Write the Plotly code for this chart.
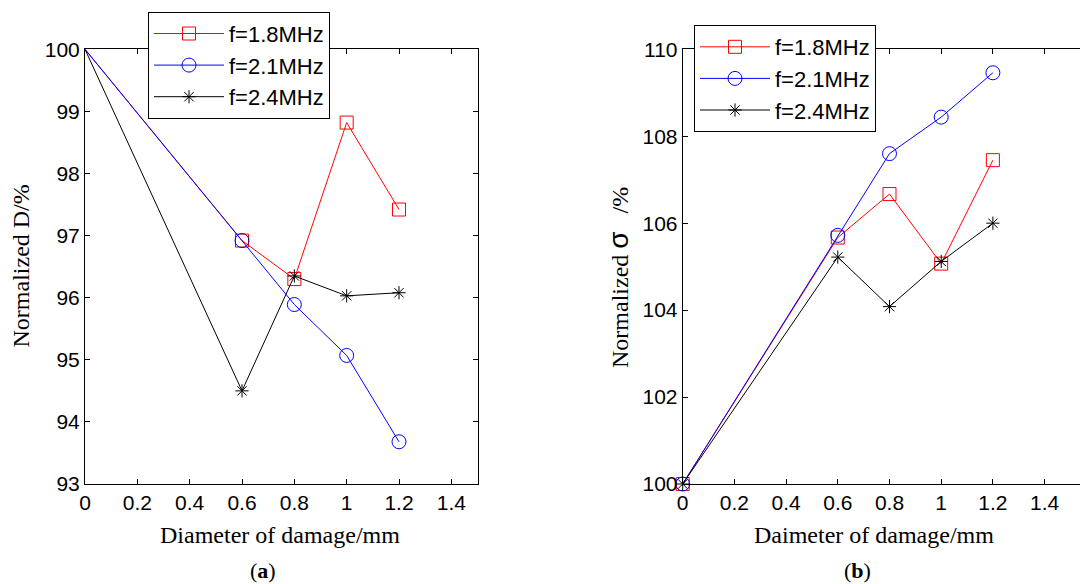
import plotly.graph_objects as go

# ---- data ----
diam = [0, 0.6, 0.8, 1.0, 1.2]
freq_labels = ["f=1.8MHz", "f=2.1MHz", "f=2.4MHz"]

# (a) Normalized D /%
D_18 = [100, 96.92, 96.30, 98.82, 97.42]
D_21 = [100, 96.92, 95.89, 95.07, 93.68]
D_24 = [100, 94.50, 96.35, 96.03, 96.08]

# (b) Normalized sigma /%
S_18 = [100, 105.67, 106.67, 105.07, 107.45]
S_21 = [100, 105.72, 107.60, 108.44, 109.46]
S_24 = [100, 105.22, 104.08, 105.12, 106.00]

x_ticks = [0, 0.2, 0.4, 0.6, 0.8, 1, 1.2, 1.4]
yA_ticks = [93, 94, 95, 96, 97, 98, 99, 100]
yB_ticks = [100, 102, 104, 106, 108, 110]

# ---- styling ----
W, H = 1080, 584
colors = ["#ff0000", "#0000ff", "#000000"]
symbols = ["square-open", "circle-open", "asterisk-open"]
msize = [13, 14, 11]
sans = "Liberation Sans, Arial, sans-serif"
serif = "Liberation Serif, Times New Roman, serif"
tick_font = dict(family=sans, size=21, color="black")

def px_x(p):
    return p / W

def px_y(p):
    return 1 - p / H

fig = go.Figure()

# left panel: no marker drawn at the origin point (hidden via selection styling)
shown_pts = list(range(1, len(diam)))
for i, ys in enumerate([D_18, D_21, D_24]):
    fig.add_trace(go.Scatter(
        x=diam, y=ys, mode="lines+markers", name=freq_labels[i],
        line=dict(color=colors[i], width=1),
        marker=dict(symbol=symbols[i], size=msize[i], color=colors[i],
                    line=dict(color=colors[i], width=1)),
        selectedpoints=shown_pts,
        selected=dict(marker=dict(opacity=1)),
        unselected=dict(marker=dict(opacity=0)),
        xaxis="x", yaxis="y", legend="legend"))

for i, ys in enumerate([S_18, S_21, S_24]):
    fig.add_trace(go.Scatter(
        x=diam, y=ys, mode="lines+markers", name=freq_labels[i],
        line=dict(color=colors[i], width=1),
        marker=dict(symbol=symbols[i], size=msize[i], color=colors[i],
                    line=dict(color=colors[i], width=1)),
        cliponaxis=False,
        xaxis="x2", yaxis="y2", legend="legend2"))

axis_common = dict(showgrid=False, zeroline=False, showline=True, linecolor="black",
                   linewidth=1, ticks="inside", ticklen=5, tickcolor="black",
                   tickwidth=1, tickfont=tick_font, automargin=False)

top, bottom = 49.3, 484
legend_common = dict(xanchor="left", yanchor="top", bgcolor="white", bordercolor="black",
                     borderwidth=1, itemwidth=70,
                     font=dict(family=sans, size=22, color="black"))
fig.update_layout(
    width=W, height=H,
    margin=dict(l=0, r=0, t=0, b=0),
    paper_bgcolor="white", plot_bgcolor="white",
    xaxis=dict(domain=[px_x(85), px_x(477.5)], range=[0, 1.5], tickvals=x_ticks,
               ticktext=[("%g" % v) for v in x_ticks], mirror="ticks", anchor="y",
               **axis_common),
    yaxis=dict(domain=[px_y(bottom), px_y(top)], range=[93, 100], tickvals=yA_ticks,
               mirror="ticks", anchor="x", **axis_common),
    xaxis2=dict(domain=[px_x(682.7), 1.0], range=[0, 1.537], tickvals=x_ticks,
                ticktext=[("%g" % v) for v in x_ticks], mirror="ticks", anchor="y2",
                **axis_common),
    yaxis2=dict(domain=[px_y(bottom), px_y(top)], range=[100, 110], tickvals=yB_ticks,
                mirror=False, anchor="x2", **axis_common),
    legend=dict(x=px_x(148), y=px_y(11.7), **legend_common),
    legend2=dict(x=px_x(694), y=px_y(25), **legend_common),
)

ann_font = dict(family=serif, size=24, color="black")
fig.add_annotation(text="Normalized D/%", x=px_x(20), y=px_y(266.5), xref="paper", yref="paper",
                   textangle=-90, showarrow=False, font=ann_font, xanchor="center", yanchor="middle")
fig.add_annotation(text="Normalized <span style='font-family:Liberation Sans;font-size:28px'>σ</span>"
                        "&nbsp;&nbsp;&nbsp;/%",
                   x=px_x(618), y=px_y(278), xref="paper", yref="paper",
                   textangle=-90, showarrow=False, font=ann_font, xanchor="center", yanchor="middle")
fig.add_annotation(text="Diameter of damage/mm", x=px_x(280), y=px_y(535), xref="paper", yref="paper",
                   showarrow=False, font=ann_font, xanchor="center", yanchor="middle")
fig.add_annotation(text="Daimeter of damage/mm", x=px_x(874), y=px_y(535), xref="paper", yref="paper",
                   showarrow=False, font=ann_font, xanchor="center", yanchor="middle")
fig.add_annotation(text="(<b>a</b>)", x=px_x(263), y=px_y(570), xref="paper", yref="paper",
                   showarrow=False, font=dict(family=serif, size=22, color="black"),
                   xanchor="center", yanchor="middle")
fig.add_annotation(text="(<b>b</b>)", x=px_x(857), y=px_y(570), xref="paper", yref="paper",
                   showarrow=False, font=dict(family=serif, size=22, color="black"),
                   xanchor="center", yanchor="middle")

fig.write_html("out.html", config={"displayModeBar": False},
               post_script="document.body.style.margin='0';document.body.style.overflow='hidden';")
